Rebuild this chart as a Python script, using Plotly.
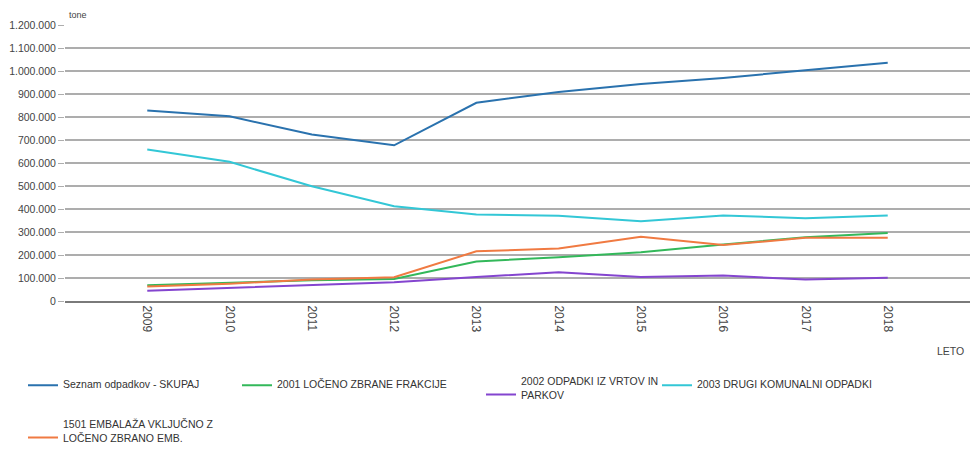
import plotly.graph_objects as go

years = [2009, 2010, 2011, 2012, 2013, 2014, 2015, 2016, 2017, 2018]
total = [828000, 803000, 724000, 677000, 862000, 909000, 944000, 970000, 1003000, 1036000]
frakcije_2001 = [69000, 79000, 90000, 96000, 172000, 190000, 212000, 246000, 277000, 296000]
vrtovi_2002 = [45000, 57000, 71000, 82000, 104000, 125000, 104000, 111000, 93000, 101000]
drugi_2003 = [659000, 605000, 499000, 412000, 376000, 371000, 347000, 372000, 360000, 372000]
embalaza_1501 = [63000, 75000, 94000, 103000, 216000, 228000, 279000, 243000, 275000, 275000]

names = [
    "Seznam odpadkov - SKUPAJ",
    "2001 LOČENO ZBRANE FRAKCIJE",
    "2002 ODPADKI IZ VRTOV IN<br>PARKOV",
    "2003 DRUGI KOMUNALNI ODPADKI",
    "1501 EMBALAŽA VKLJUČNO Z<br>LOČENO ZBRANO EMB.",
]
series = [total, frakcije_2001, vrtovi_2002, drugi_2003, embalaza_1501]
colors = ["#2a72ae", "#33b85a", "#8445cf", "#33c7d6", "#f07a42"]
y_ticks = [0, 100000, 200000, 300000, 400000, 500000, 600000, 700000, 800000, 900000, 1000000, 1100000, 1200000]

# legend placement (container px): x of legend left, y of center
leg_pos = [(23, 384), (237, 384), (481, 388), (657, 384), (23, 431)]

FONT = "Liberation Sans, Arial, sans-serif"
W, H = 970, 450
ML, MT, MB = 65, 25, 148.5
PW, PH = W - ML, H - MT - MB


def px_to_paper(px, py):
    return (px - ML) / PW, (H - MB - py) / PH


fig = go.Figure()
draw_order = [0, 3, 2, 1, 4]
for i in draw_order:
    fig.add_trace(go.Scatter(
        x=years, y=series[i], mode="lines", name=names[i],
        line=dict(color=colors[i], width=2),
        legend="legend" if i == 0 else f"legend{i+1}",
        hoverinfo="skip",
    ))

layout_legends = {}
for i, (lx, ly) in enumerate(leg_pos):
    key = "legend" if i == 0 else f"legend{i+1}"
    layout_legends[key] = dict(
        xref="container", yref="container",
        x=lx / W, y=1 - ly / H, xanchor="left", yanchor="middle",
        orientation="h", bgcolor="rgba(0,0,0,0)",
        font=dict(family=FONT, size=10.5, color="#333"),
        itemwidth=30, valign="bottom",
    )

tx, ty = px_to_paper(67, 15)
lx_, ly_ = px_to_paper(966, 352)

fig.update_layout(
    width=W, height=H,
    margin=dict(l=ML, r=0, t=MT, b=MB),
    paper_bgcolor="white", plot_bgcolor="white",
    separators=",.",
    font=dict(family=FONT, size=10.5, color="#333"),
    xaxis=dict(
        range=[2008, 2019], tickvals=years, ticktext=[str(y) for y in years],
        tickangle=90, showgrid=False, zeroline=False,
        showline=True, linecolor="#7a7a7a", linewidth=2,
        ticks="", tickfont=dict(family=FONT, size=12, color="#444"),
    ),
    yaxis=dict(
        range=[0, 1200000], tickvals=y_ticks, tickformat=",d",
        showgrid=True, gridcolor="#adadad", gridwidth=2,
        zeroline=False, showline=False,
        ticks="outside", ticklen=6, tickcolor="#adadad", tickwidth=1,
        tickfont=dict(family=FONT, size=10.5, color="#444"),
    ),
    showlegend=True,
    annotations=[
        dict(text="tone", xref="paper", yref="paper", x=tx, y=ty,
             xanchor="left", yanchor="middle", showarrow=False,
             font=dict(family=FONT, size=9, color="#444")),
        dict(text="LETO", xref="paper", yref="paper", x=lx_, y=ly_,
             xanchor="right", yanchor="middle", showarrow=False,
             font=dict(family=FONT, size=10.5, color="#444")),
    ],
    **layout_legends,
)

fig.write_html("out.html")
